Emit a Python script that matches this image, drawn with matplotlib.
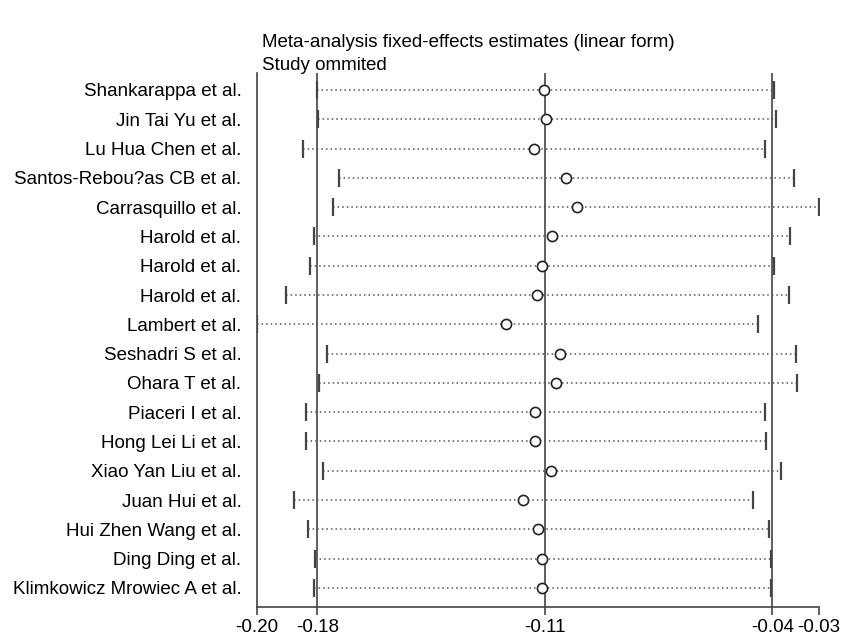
import numpy as np
import matplotlib
matplotlib.use("Agg")
import matplotlib.pyplot as plt

plt.rcParams['font.family'] = ['Liberation Sans', 'DejaVu Sans']

studies = ['Shankarappa et al.', 'Jin Tai Yu et al.', 'Lu Hua Chen et al.',
           'Santos-Rebou?as CB et al.', 'Carrasquillo et al.', 'Harold et al.',
           'Harold et al.', 'Harold et al.', 'Lambert et al.', 'Seshadri S et al.',
           'Ohara T et al.', 'Piaceri I et al.', 'Hong Lei Li et al.',
           'Xiao Yan Liu et al.', 'Juan Hui et al.', 'Hui Zhen Wang et al.',
           'Ding Ding et al.', 'Klimkowicz Mrowiec A et al.']

# estimate with each study omitted, and its 95% CI
est = [-0.1103, -0.1097, -0.1133, -0.1035, -0.1002, -0.1079, -0.1108, -0.1125, -0.1218,
       -0.1052, -0.1064, -0.1131, -0.1129, -0.1082, -0.1166, -0.1121, -0.1108, -0.1109]
lower = [-0.1801, -0.1797, -0.1844, -0.1735, -0.1751, -0.1812, -0.1824, -0.1897, -0.1987,
         -0.1770, -0.1796, -0.1836, -0.1836, -0.1784, -0.1872, -0.1828, -0.1806, -0.1812]
upper = [-0.0394, -0.0389, -0.0422, -0.0332, -0.0256, -0.0345, -0.0393, -0.0349, -0.0445,
         -0.0328, -0.0325, -0.0422, -0.0419, -0.0373, -0.0460, -0.0410, -0.0404, -0.0403]

# overall fixed-effects estimate
overall_est = -0.110
overall_lower = -0.180
overall_upper = -0.040

fig = plt.figure(figsize=(8.41, 6.38), dpi=100)
ax = fig.add_axes([0.3052, 0.0491, 0.6686, 0.8365])

y = np.arange(1, len(studies) + 1)
xmin, xmax = min(lower), max(upper)

for v in [overall_lower, overall_est, overall_upper]:
    ax.axvline(v, color='#444444', lw=1.2, zorder=1)

ax.hlines(y, lower, upper, colors='#555555', linestyles=(0, (1, 2)), lw=1.1, zorder=2)
ax.plot(lower, y, ls='none', marker='|', ms=13, mew=1.6, color='#444444', zorder=3)
ax.plot(upper, y, ls='none', marker='|', ms=13, mew=1.6, color='#444444', zorder=3)
ax.plot(est, y, ls='none', marker='o', ms=7.3, mfc='white', mec='#222222', mew=1.2, zorder=4)

ax.set_xlim(xmin, xmax)
ax.set_ylim(18.64, 0.42)
ax.set_yticks(y)
ax.set_yticklabels(studies, fontsize=13.5)
ax.tick_params(axis='y', length=0, pad=11)

xt = [xmin, overall_lower, overall_est, overall_upper, xmax]
ax.set_xticks(xt)
ax.set_xticklabels(['%.2f' % v for v in xt], fontsize=13.5)
ax.tick_params(axis='x', length=6, width=1.2, color='#444444', pad=3)

for s in ['top', 'right']:
    ax.spines[s].set_visible(False)
for s in ['left', 'bottom']:
    ax.spines[s].set_color('#444444')
    ax.spines[s].set_linewidth(1.2)

fig.text(0.3115, 0.933, 'Meta-analysis fixed-effects estimates (linear form)', fontsize=13.5, va='center')
fig.text(0.3115, 0.897, 'Study ommited', fontsize=13.5, va='center')

fig.savefig('out.png', dpi=100)
